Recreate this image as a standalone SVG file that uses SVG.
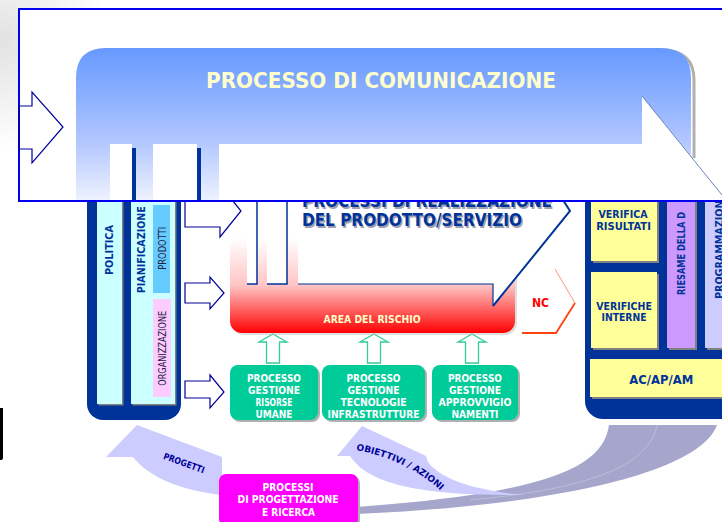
<svg xmlns="http://www.w3.org/2000/svg" width="722" height="522" viewBox="0 0 722 522">
<defs>
<linearGradient id="gBlue" x1="0" y1="48" x2="0" y2="200" gradientUnits="userSpaceOnUse">
<stop offset="0" stop-color="#6699ff"/>
<stop offset="0.62" stop-color="#b2c7ff"/>
<stop offset="1" stop-color="#eef2ff"/>
</linearGradient>
<linearGradient id="gRed" x1="0" y1="238" x2="0" y2="333" gradientUnits="userSpaceOnUse">
<stop offset="0" stop-color="#ffffff"/>
<stop offset="0.5" stop-color="#ffc4c4"/>
<stop offset="0.8" stop-color="#ff5050"/>
<stop offset="1" stop-color="#ff0000"/>
</linearGradient>
<radialGradient id="gBg" cx="0" cy="40" r="110" gradientUnits="userSpaceOnUse">
<stop offset="0" stop-color="#e2e2e2"/>
<stop offset="1" stop-color="#ffffff"/>
</radialGradient>
<path id="obPath" d="M356,450 Q408,460 441,491"/>
</defs>
<style>
text{font-family:"DejaVu Sans","Noto Sans",sans-serif;font-weight:bold}
.nv{fill:#003399}
.dk{fill:#000099}
.cr{fill:#ffffcc}
.gtx{fill:#ffffff;font-size:10.5px;text-anchor:middle}
.navy{fill:#003399}
.shadow{fill:#808080}
.harrow{fill:#ffffff;stroke:#000099;stroke-width:1.2}
.garrow{fill:#ffffff;stroke:#33cc99;stroke-width:1.3}
.green{fill:#00cc99}
.yel{fill:#ffff99}
.line{stroke:#003399;fill:none}
</style>
<rect x="0" y="0" width="722" height="522" fill="#ffffff"/>
<rect x="0" y="0" width="160" height="160" fill="url(#gBg)"/>
<path d="M0,408 h3 v50 q0,2 -3,2 z" fill="#000000"/>

<g id="band-dark">
<path d="M609,425 C603,470 540,493 357,507 L357,514 C560,505 700,472 717,425 Z" fill="#a6a6cc"/>
<path d="M657,425 C650,462 600,488 470,500" fill="none" stroke="#c4c4e2" stroke-width="0.7"/>
</g>
<g id="arrow-progetti">
<path d="M137,425 L106,457 L133,457 C150,478 180,490 222,495 L222,457 Z" fill="#ccccff"/>
<text transform="translate(183,466) rotate(20)" text-anchor="middle" font-size="9" class="dk" textLength="43" lengthAdjust="spacingAndGlyphs">PROGETTI</text>
</g>
<g id="arrow-obiettivi">
<path d="M362,426 L337,456 L350,456 C368,484 420,496 525,495 C470,490 440,478 428,462 L426,456 Z" fill="#ccccff"/>
<text font-size="9" class="dk"><textPath href="#obPath" textLength="95" lengthAdjust="spacingAndGlyphs">OBIETTIVI / AZIONI</textPath></text>
</g>

<g id="left-panel">
<rect x="87" y="185" width="94" height="235" rx="16" class="navy"/>
<rect x="98.5" y="195" width="25" height="210.5" class="shadow"/>
<rect x="97" y="195" width="25" height="209" fill="#ccffff"/>
<rect x="132.5" y="195" width="44" height="210.5" class="shadow"/>
<rect x="131" y="195" width="44" height="209" fill="#ccffff"/>
<rect x="153" y="205" width="17" height="88" fill="#66ccff"/>
<rect x="153" y="299" width="18" height="98" fill="#ffccff"/>
<text transform="translate(112.7,250) rotate(-90)" text-anchor="middle" font-size="10.5" class="nv" textLength="50" lengthAdjust="spacingAndGlyphs">POLITICA</text>
<text transform="translate(145,249.7) rotate(-90)" text-anchor="middle" font-size="10.5" class="nv" textLength="87" lengthAdjust="spacingAndGlyphs">PIANIFICAZIONE</text>
<text transform="translate(166,248.3) rotate(-90)" text-anchor="middle" font-size="10" style="font-weight:normal" fill="#222244" textLength="43" lengthAdjust="spacingAndGlyphs">PRODOTTI</text>
<text transform="translate(166,348.3) rotate(-90)" text-anchor="middle" font-size="10" style="font-weight:normal" fill="#222244" textLength="75" lengthAdjust="spacingAndGlyphs">ORGANIZZAZIONE</text>
</g>

<g id="connectors">
<polygon class="harrow" points="185,195 220,195 220,185 241,211 220,237 220,227 185,227"/>
<polygon class="harrow" points="185,283 210,283 210,277 224,293 210,309 210,303 185,303"/>
<polygon class="harrow" points="185,381 210,381 210,375 224,392 210,408 210,398 185,398"/>
<polygon class="garrow" points="273,334 287,342 279.5,342 279.5,363 266.5,363 266.5,342 259,342"/>
<polygon class="garrow" points="374,334 388,342 380.5,342 380.5,363 367.5,363 367.5,342 360,342"/>
<polygon class="garrow" points="472,334 486,342 478.5,342 478.5,363 465.5,363 465.5,342 458,342"/>
<path d="M522,333 H556 L575,303" fill="none" stroke="#ff4411" stroke-width="1.8"/>
<path d="M555,269 L575,303" fill="none" stroke="#ff8866" stroke-width="0.9"/>
</g>

<g id="area-rischio">
<rect x="232" y="237" width="285" height="98" rx="12" fill="#c0c0c0" opacity="0.5"/>
<rect x="230" y="235" width="285" height="98" rx="12" fill="url(#gRed)"/>
<text x="372" y="323" font-size="10.5" text-anchor="middle" class="cr" textLength="97" lengthAdjust="spacingAndGlyphs">AREA DEL RISCHIO</text>
</g>
<g id="realizzazione">
<rect x="247" y="195" width="10" height="89" fill="#ffffff"/>
<rect x="267" y="195" width="20" height="89" fill="#ffffff"/>
<path d="M298,195 V284 H493 V306 L570,211 L563,195 Z" fill="#ffffff"/>
<path d="M247,284 H257 V195 M267,284 H287 V195" class="line" stroke-width="1.5"/>
<path d="M298,284 H493 V306" class="line" stroke-width="1.2"/>
<path d="M493,306 L570,211 L563,200" class="line" stroke-width="2"/>
<text x="303.5" y="208.5" font-size="17" fill="#a0a0b0" textLength="250" lengthAdjust="spacingAndGlyphs">PROCESSI DI REALIZZAZIONE</text>
<text x="302" y="207" font-size="17" class="nv" textLength="250" lengthAdjust="spacingAndGlyphs">PROCESSI DI REALIZZAZIONE</text>
<text x="303.5" y="227.5" font-size="17" fill="#a0a0b0" textLength="220" lengthAdjust="spacingAndGlyphs">DEL PRODOTTO/SERVIZIO</text>
<text x="302" y="226" font-size="17" class="nv" textLength="220" lengthAdjust="spacingAndGlyphs">DEL PRODOTTO/SERVIZIO</text>
<text x="540.5" y="307" font-size="12" text-anchor="middle" fill="#ff0000" textLength="17" lengthAdjust="spacingAndGlyphs">NC</text>
</g>

<g id="gestione-risorse">
<rect x="232" y="367" width="88" height="55" rx="8" fill="#b0b0b0"/>
<rect x="230" y="365" width="88" height="55" rx="8" class="green"/>
<text class="gtx" x="274" y="381.5" textLength="54" lengthAdjust="spacingAndGlyphs">PROCESSO</text>
<text class="gtx" x="274" y="394" textLength="52" lengthAdjust="spacingAndGlyphs">GESTIONE</text>
<text class="gtx" x="274" y="406" textLength="37" lengthAdjust="spacingAndGlyphs">RISORSE</text>
<text class="gtx" x="274" y="418" textLength="37" lengthAdjust="spacingAndGlyphs">UMANE</text>
</g>
<g id="gestione-tecnologie">
<rect x="324" y="367" width="103" height="55" rx="8" fill="#b0b0b0"/>
<rect x="322" y="365" width="103" height="55" rx="8" class="green"/>
<text class="gtx" x="373.5" y="381.5" textLength="54" lengthAdjust="spacingAndGlyphs">PROCESSO</text>
<text class="gtx" x="373.5" y="394" textLength="52" lengthAdjust="spacingAndGlyphs">GESTIONE</text>
<text class="gtx" x="373.5" y="406" textLength="66" lengthAdjust="spacingAndGlyphs">TECNOLOGIE</text>
<text class="gtx" x="373.5" y="418" textLength="92" lengthAdjust="spacingAndGlyphs">INFRASTRUTTURE</text>
</g>
<g id="gestione-approvvigionamenti">
<rect x="434" y="367" width="86" height="55" rx="8" fill="#b0b0b0"/>
<rect x="432" y="365" width="86" height="55" rx="8" class="green"/>
<text class="gtx" x="475" y="381.5" textLength="54" lengthAdjust="spacingAndGlyphs">PROCESSO</text>
<text class="gtx" x="475" y="394" textLength="52" lengthAdjust="spacingAndGlyphs">GESTIONE</text>
<text class="gtx" x="475" y="406" textLength="73" lengthAdjust="spacingAndGlyphs">APPROVVIGIO</text>
<text class="gtx" x="475" y="418" textLength="47" lengthAdjust="spacingAndGlyphs">NAMENTI</text>
</g>

<g id="right-panel">
<rect x="585" y="185" width="160" height="234" rx="18" class="navy"/>
<rect x="593" y="195" width="66" height="68" class="shadow"/>
<rect x="591" y="195" width="66" height="66" class="yel"/>
<rect x="593" y="274" width="66" height="76" class="shadow"/>
<rect x="591" y="272" width="66" height="76" class="yel"/>
<rect x="669" y="195" width="28" height="155" class="shadow"/>
<rect x="667" y="195" width="28" height="153" fill="#cc99ff"/>
<rect x="707" y="195" width="30" height="155" class="shadow"/>
<rect x="705" y="195" width="30" height="153" fill="#ccccff"/>
<rect x="592" y="361" width="140" height="38" class="shadow"/>
<rect x="590" y="359" width="140" height="38" class="yel"/>
<text x="623" y="218" font-size="10" text-anchor="middle" class="nv" textLength="49" lengthAdjust="spacingAndGlyphs">VERIFICA</text>
<text x="623.5" y="230" font-size="10" text-anchor="middle" class="nv" textLength="54.7" lengthAdjust="spacingAndGlyphs">RISULTATI</text>
<text x="624" y="309.5" font-size="10.5" text-anchor="middle" class="nv" textLength="55.7" lengthAdjust="spacingAndGlyphs">VERIFICHE</text>
<text x="624" y="321" font-size="10.5" text-anchor="middle" class="nv" textLength="45" lengthAdjust="spacingAndGlyphs">INTERNE</text>
<text x="661.3" y="384" font-size="13" text-anchor="middle" class="nv" textLength="64" lengthAdjust="spacingAndGlyphs">AC/AP/AM</text>
<text transform="translate(685,295) rotate(-90)" font-size="11" class="nv" textLength="83" lengthAdjust="spacingAndGlyphs">RIESAME DELLA D</text>
<text transform="translate(723.3,299) rotate(-90)" font-size="11" class="nv" textLength="105" lengthAdjust="spacingAndGlyphs">PROGRAMMAZIONE</text>
</g>

<g id="progettazione">
<rect x="221" y="476" width="139" height="52" rx="7" fill="#b0b0b0"/>
<rect x="219" y="474" width="139" height="52" rx="7" fill="#ff00ff"/>
<text class="gtx" x="288" y="491" textLength="51" lengthAdjust="spacingAndGlyphs">PROCESSI</text>
<text class="gtx" x="288" y="503" textLength="101" lengthAdjust="spacingAndGlyphs">DI PROGETTAZIONE</text>
<text class="gtx" x="288.5" y="515.5" textLength="53" lengthAdjust="spacingAndGlyphs">E RICERCA</text>
</g>

<g id="comunicazione">
<rect x="19" y="9" width="720" height="192" fill="#ffffff" stroke="#0000ee" stroke-width="2"/>
<polygon points="19,106 32,106 32,92 63,127 32,163 32,149 19,149" fill="none" stroke="#000099" stroke-width="1.2"/>
<path d="M661,50 Q694,50 694,80 V158" fill="none" stroke="#b0b0b0" stroke-width="3"/>
<path d="M76,200 V78 Q76,48 106,48 H661 Q691,48 691,78 V156 L642,96 V144 H219 V200 Z" fill="url(#gBlue)"/>
<rect x="110" y="144" width="22" height="56" fill="#ffffff"/>
<rect x="153" y="144" width="44" height="56" fill="#ffffff"/>
<rect x="132" y="148" width="4" height="52" fill="#003399"/>
<rect x="197" y="148" width="4" height="52" fill="#003399"/>
<path d="M642,96 L722,195" stroke="#4466aa" stroke-width="0.8" fill="none"/>
<text x="206" y="88" font-size="21" class="cr" textLength="350" lengthAdjust="spacingAndGlyphs">PROCESSO DI COMUNICAZIONE</text>
<line x1="19" y1="201" x2="722" y2="201" stroke="#0000ee" stroke-width="2"/>
</g>
</svg>
